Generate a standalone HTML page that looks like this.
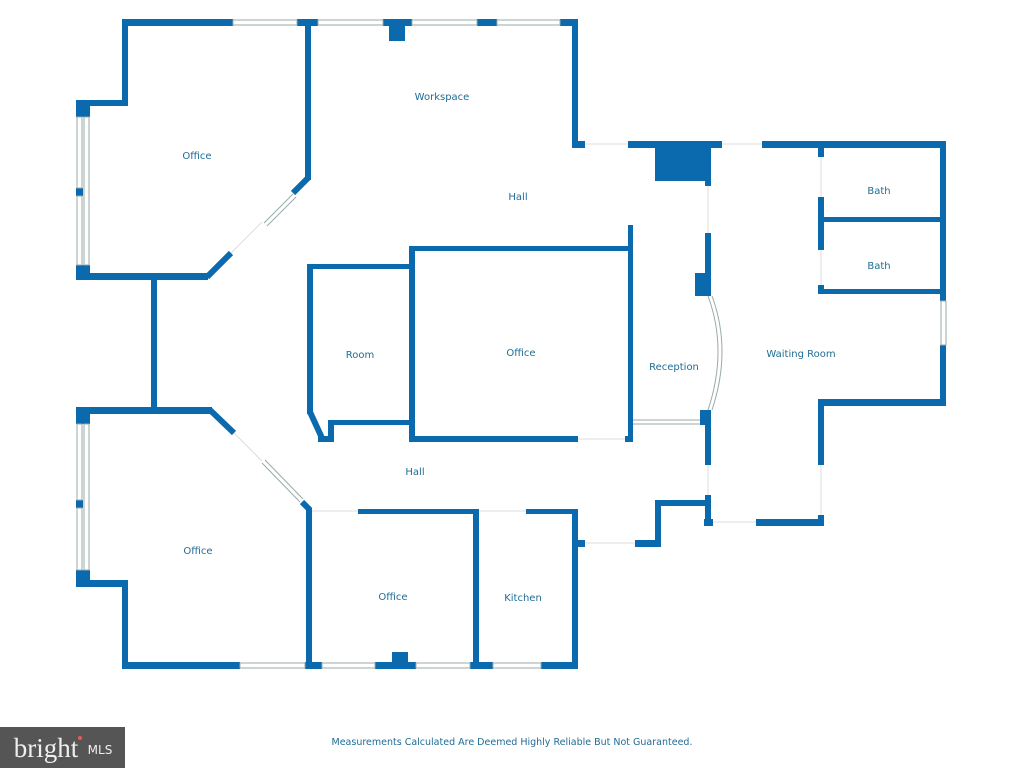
<!DOCTYPE html>
<html><head><meta charset="utf-8"><style>
body{margin:0;background:#fff;}
svg{display:block}
text{font-family:"DejaVu Sans","Liberation Sans",sans-serif;font-size:10px;fill:#1f6c96;text-anchor:middle}
</style></head><body>
<svg width="1024" height="768" viewBox="0 0 1024 768">
<g fill="#0a6aad">
<rect x="122" y="19" width="111" height="7"/>
<rect x="297" y="19" width="21" height="7"/>
<rect x="383" y="19" width="29" height="7"/>
<rect x="389" y="19" width="16" height="22"/>
<rect x="477" y="19" width="20" height="7"/>
<rect x="560" y="19" width="18" height="7"/>
<rect x="572" y="19" width="6" height="129"/>
<rect x="572" y="141" width="13" height="7"/>
<rect x="628" y="141" width="94" height="7"/>
<rect x="655" y="141" width="53" height="40"/>
<rect x="705" y="141" width="6" height="45"/>
<rect x="762" y="141" width="184" height="7"/>
<rect x="940" y="141" width="6" height="160"/>
<rect x="940" y="345" width="6" height="61"/>
<rect x="818" y="399" width="128" height="7"/>
<rect x="818" y="399" width="6" height="66"/>
<rect x="818" y="515" width="6" height="11"/>
<rect x="756" y="519" width="68" height="7"/>
<rect x="704" y="519" width="9" height="7"/>
<rect x="818" y="147" width="6" height="10"/>
<rect x="818" y="197" width="6" height="53"/>
<rect x="818" y="285" width="6" height="9"/>
<rect x="818" y="217" width="128" height="5"/>
<rect x="818" y="289" width="128" height="5"/>
<rect x="628" y="225" width="5" height="217"/>
<rect x="705" y="233" width="6" height="42"/>
<rect x="695" y="273" width="16" height="23"/>
<rect x="700" y="410" width="11" height="15"/>
<rect x="705" y="425" width="6" height="40"/>
<rect x="705" y="495" width="6" height="31"/>
<rect x="655" y="500" width="6" height="47"/>
<rect x="655" y="500" width="50" height="6"/>
<rect x="635" y="540" width="26" height="7"/>
<rect x="572" y="540" width="13" height="7"/>
<rect x="572" y="509" width="6" height="159"/>
<rect x="409" y="246" width="224" height="5"/>
<rect x="409" y="246" width="6" height="196"/>
<rect x="409" y="436" width="169" height="6"/>
<rect x="625" y="436" width="8" height="6"/>
<rect x="307" y="264" width="105" height="5"/>
<rect x="307" y="264" width="6" height="150"/>
<rect x="328" y="420" width="84" height="5"/>
<rect x="328" y="420" width="6" height="22"/>
<rect x="318" y="436" width="16" height="6"/>
<rect x="122" y="19" width="6" height="87"/>
<rect x="76" y="100" width="52" height="6"/>
<rect x="76" y="100" width="14" height="17"/>
<rect x="76" y="188" width="7" height="8"/>
<rect x="76" y="265" width="14" height="15"/>
<rect x="76" y="273" width="132" height="7"/>
<rect x="305" y="19" width="6" height="161"/>
<rect x="151" y="278" width="6" height="132"/>
<rect x="76" y="407" width="136" height="7"/>
<rect x="76" y="407" width="14" height="17"/>
<rect x="76" y="500" width="7" height="8"/>
<rect x="76" y="570" width="14" height="17"/>
<rect x="76" y="580" width="52" height="7"/>
<rect x="122" y="580" width="6" height="88"/>
<rect x="306" y="508" width="6" height="160"/>
<rect x="122" y="662" width="118" height="7"/>
<rect x="305" y="662" width="17" height="7"/>
<rect x="375" y="662" width="41" height="7"/>
<rect x="392" y="652" width="16" height="17"/>
<rect x="470" y="662" width="23" height="7"/>
<rect x="541" y="662" width="37" height="7"/>
<rect x="358" y="509" width="118" height="5"/>
<rect x="473" y="509" width="6" height="160"/>
<rect x="526" y="509" width="52" height="5"/>
</g>
<g stroke="#0a6aad" stroke-width="6" fill="none">
<line x1="207" y1="277" x2="231" y2="253"/>
<line x1="293" y1="193" x2="308" y2="178"/>
<line x1="210" y1="410" x2="234" y2="433"/>
<line x1="302" y1="502" x2="310" y2="510"/>
<line x1="310" y1="412" x2="322" y2="438"/>
</g>
<g fill="#fff" stroke="#9aa" stroke-width="1">
<rect x="233" y="20" width="64" height="5"/><rect x="318" y="20" width="65" height="5"/>
<rect x="412" y="20" width="65" height="5"/><rect x="497" y="20" width="63" height="5"/>
<rect x="77" y="117" width="5" height="71"/><rect x="77" y="196" width="5" height="69"/>
<rect x="84" y="117" width="5" height="148"/>
<rect x="77" y="424" width="5" height="76"/><rect x="77" y="508" width="5" height="62"/>
<rect x="84" y="424" width="5" height="146"/>
<rect x="240" y="663" width="65" height="5"/><rect x="322" y="663" width="53" height="5"/>
<rect x="416" y="663" width="54" height="5"/><rect x="493" y="663" width="48" height="5"/>
<rect x="941" y="301" width="5" height="44"/>
<line x1="633" y1="420" x2="700" y2="420"/><line x1="633" y1="424" x2="700" y2="424"/>
</g>
<g stroke="#9aa" stroke-width="1" fill="none">
<line x1="264" y1="223" x2="293" y2="194"/><line x1="267" y1="226" x2="296" y2="197"/>
<line x1="262" y1="463" x2="300" y2="502"/><line x1="265" y1="460" x2="303" y2="499"/>
<path d="M708 296 Q728 350 708 410"/><path d="M712 296 Q732 350 712 410"/>
<g stroke="#ddd"><line x1="231" y1="253" x2="262" y2="222"/><line x1="234" y1="433" x2="262" y2="461"/>
<line x1="585" y1="144" x2="628" y2="144"/><line x1="722" y1="144" x2="762" y2="144"/>
<line x1="708" y1="186" x2="708" y2="233"/><line x1="708" y1="465" x2="708" y2="495"/>
<line x1="821" y1="157" x2="821" y2="197"/><line x1="821" y1="250" x2="821" y2="285"/>
<line x1="821" y1="465" x2="821" y2="515"/><line x1="713" y1="522" x2="756" y2="522"/>
<line x1="585" y1="543" x2="635" y2="543"/><line x1="578" y1="439" x2="625" y2="439"/>
<line x1="312" y1="511" x2="358" y2="511"/><line x1="479" y1="511" x2="526" y2="511"/></g>
</g>
<text x="442" y="100">Workspace</text>
<text x="197" y="159">Office</text>
<text x="518" y="200">Hall</text>
<text x="879" y="194">Bath</text>
<text x="879" y="269">Bath</text>
<text x="360" y="358">Room</text>
<text x="521" y="356">Office</text>
<text x="674" y="370">Reception</text>
<text x="801" y="357">Waiting Room</text>
<text x="415" y="475">Hall</text>
<text x="198" y="554">Office</text>
<text x="393" y="600">Office</text>
<text x="523" y="601">Kitchen</text>
<text x="512" y="745" style="font-size:9.5px">Measurements Calculated Are Deemed Highly Reliable But Not Guaranteed.</text>
<rect x="0" y="727" width="125" height="41" fill="#555"/>
<text x="46" y="757" style="font-family:'Liberation Serif',serif;font-size:27px;fill:#eee">bright</text>
<circle cx="80" cy="738" r="2" fill="#e55"/>
<text x="100" y="754" style="font-size:12px;fill:#eee">MLS</text>
</svg>
</body></html>
